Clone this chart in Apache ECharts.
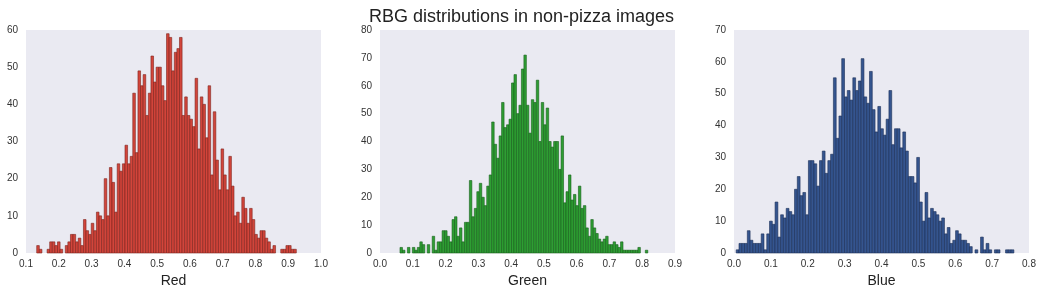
<!DOCTYPE html>
<html>
<head>
<meta charset="utf-8">
<script src="https://cdn.jsdelivr.net/npm/echarts@6/dist/echarts.min.js"></script>
<style>
  html, body { margin: 0; padding: 0; background: #fff; }
  #chart { width: 1043px; height: 296px; }
</style>
</head>
<body>
<div id="chart"></div>
<script>
// histogram counts, 100 bins per channel
var redCounts = [2,1,0,0,1,3,3,2,3,1,0,2,3,5,5,3,4,2,9,6,5,8,6,11,10,9,20,10,23,19,11,24,22,24,29,24,26,43,27,49,45,48,37,43,53,46,50,50,45,41,59,58,49,54,55,58,
  37,42,37,36,34,47,28,42,40,31,45,21,38,25,17,28,21,17,26,18,10,11,8,15,12,8,12,9,5,4,6,6,4,3,1,2,0,0,1,1,2,2,1,1];
var greenCounts = [2,1,0,2,0,2,1,2,4,3,0,3,0,6,1,4,4,8,8,6,4,12,
  13,6,9,4,11,11,26,13,16,22,25,20,17,24,28,47,39,34,42,54,45,46,48,61,64,
  50,53,66,71,53,43,55,54,62,40,54,46,52,40,38,40,40,30,42,18,22,28,19,21,17,24,16,17,
  9,6,12,9,7,5,4,5,6,3,3,4,3,2,4,1,1,1,1,1,1,2,0,0,1];
var blueCounts = [1,3,3,3,7,4,3,3,3,6,1,6,10,9,16,5,12,11,14,13,12,
  20,24,18,19,12,29,29,28,21,29,32,25,29,31,55,36,43,61,49,51,48,55,51,54,61,49,47,57,45,38,46,39,37,42,51,34,39,39,33,38,32,24,
  24,22,30,16,10,19,11,14,13,12,10,11,6,8,3,4,7,6,4,4,3,2,0,1,0,5,1,3,1,0,1,1,0,0,1,1,1];

// first bin edge and bin width for each channel
var binStart = [0.1327, 0.061, 0.006];
var binWidth = [0.00792, 0.00756, 0.00753];

var names = ['Red', 'Green', 'Blue'];
var xMin = [0.1, 0.0, 0.0];
var xMax = [1.0, 0.9, 0.8];
var yMax = [60, 80, 70];
var fills = ['#d2453b', '#2e9e33', '#35558f'];
var edges = ['#7e241d', '#17601b', '#1b2f57'];

var grids = [
  { left: 26, width: 295, top: 30, height: 223 },
  { left: 380, width: 295, top: 30, height: 223 },
  { left: 734, width: 295, top: 30, height: 223 }
];

function binsOf(counts, start, w) {
  var out = [];
  for (var i = 0; i < counts.length; i++) {
    out.push([start + i * w, start + (i + 1) * w, counts[i]]);
  }
  return out;
}

var allCounts = [redCounts, greenCounts, blueCounts];
var font = 'Liberation Sans, Arial, Helvetica, sans-serif';

var option = {
  animation: false,
  backgroundColor: '#ffffff',
  title: {
    text: 'RBG distributions in non-pizza images',
    left: 'center',
    top: 3,
    textStyle: { fontFamily: font, fontSize: 18, fontWeight: 'normal', color: '#222' }
  },
  grid: grids.map(function (g) {
    return Object.assign({ show: true, backgroundColor: '#eaeaf2', borderWidth: 0, outerBoundsMode: 'none', containLabel: false }, g);
  }),
  xAxis: names.map(function (n, i) {
    return {
      type: 'value', gridIndex: i, min: xMin[i], max: xMax[i], interval: 0.1,
      name: n, nameLocation: 'middle', nameGap: 21,
      nameTextStyle: { fontFamily: font, fontSize: 14, color: '#222' },
      axisLine: { show: false }, axisTick: { show: false }, splitLine: { show: false },
      axisLabel: {
        fontFamily: font, fontSize: 10, color: '#333', margin: 6,
        formatter: function (v) { return v.toFixed(1); }
      }
    };
  }),
  yAxis: names.map(function (n, i) {
    return {
      type: 'value', gridIndex: i, min: 0, max: yMax[i], interval: 10,
      axisLine: { show: false }, axisTick: { show: false }, splitLine: { show: false },
      axisLabel: { fontFamily: font, fontSize: 10, color: '#333', margin: 8 }
    };
  }),
  series: names.map(function (n, i) {
    return {
      type: 'custom',
      name: n,
      xAxisIndex: i,
      yAxisIndex: i,
      encode: { x: [0, 1], y: 2 },
      data: binsOf(allCounts[i], binStart[i], binWidth[i]),
      renderItem: function (params, api) {
        var c = api.value(2);
        if (!c) return;
        var p0 = api.coord([api.value(0), c]);
        var p1 = api.coord([api.value(1), 0]);
        return {
          type: 'rect',
          shape: { x: p0[0], y: p0[1], width: p1[0] - p0[0], height: p1[1] - p0[1] },
          style: { fill: fills[i], stroke: edges[i], lineWidth: 0.6 }
        };
      }
    };
  })
};

var myChart = echarts.init(document.getElementById('chart'));
myChart.setOption(option);
</script>
</body>
</html>
